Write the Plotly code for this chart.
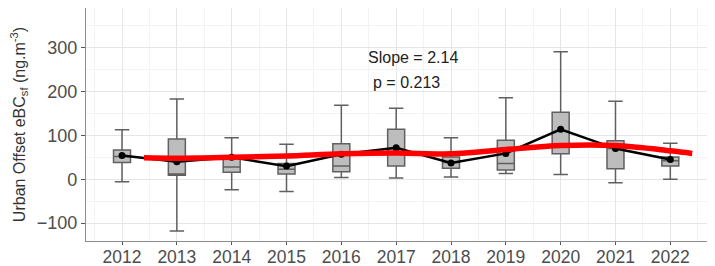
import plotly.graph_objects as go

years = [2012, 2013, 2014, 2015, 2016, 2017, 2018, 2019, 2020, 2021, 2022]
lower = [-6, -118, -24, -28, 4, 3, 5, 13, 11, -8, 0]
q1 = [38, 9, 16, 12, 17, 30, 25, 21, 58, 24, 30]
median = [52, 12, 28, 23, 30, 62, 38, 36, 80, 70, 42]
q3 = [67, 92, 48, 36, 81, 114, 51, 89, 153, 88, 51]
upper = [113, 183, 95, 80, 169, 162, 95, 186, 291, 178, 82]
means = [54, 40, 50, 30, 57, 72, 37, 59, 114, 70, 45]

trend_x = [2012.4, 2013, 2014, 2015, 2016, 2017, 2018, 2019, 2020, 2021, 2022, 2022.4]
trend_y = [49, 48, 50, 53, 58, 60, 58, 68, 77, 77, 65, 59]

tick_labels = [str(y) for y in years]
slope_text = "Slope = 2.14"
p_text = "p = 0.213"

fig = go.Figure()
fig.add_trace(go.Box(
    x=years, q1=q1, median=median, q3=q3,
    lowerfence=lower, upperfence=upper,
    width=0.31, whiskerwidth=0.85,
    fillcolor="#bdbdbd", line=dict(color="#606060", width=1.5),
    boxpoints=False, showlegend=False, hoverinfo="skip",
))
fig.add_trace(go.Scatter(
    x=years, y=means, mode="lines+markers",
    line=dict(color="black", width=2.5),
    marker=dict(color="black", size=7),
    showlegend=False,
))
fig.add_trace(go.Scatter(
    x=trend_x, y=trend_y, mode="lines",
    line=dict(color="#ff0000", width=5.5, shape="spline", smoothing=1.0),
    showlegend=False,
))

fig.add_annotation(x=2017.30, y=277, text=slope_text, showarrow=False,
                   font=dict(family="Liberation Sans", size=16, color="#222222"))
fig.add_annotation(x=2017.18, y=220, text=p_text, showarrow=False,
                   font=dict(family="Liberation Sans", size=16, color="#222222"))

# page body has an 8px default margin: figure is sized to fill the rest of the window
fig.update_layout(
    width=707, height=258,
    margin=dict(l=78, r=0, t=0, b=25, autoexpand=False),
    paper_bgcolor="white", plot_bgcolor="white",
    font=dict(family="Liberation Sans", color="#4d4d4d"),
)
fig.update_xaxes(
    automargin=False,
    range=[2011.343, 2022.815],
    tickvals=years, ticktext=tick_labels,
    tickfont=dict(size=17.5, color="#4d4d4d"),
    ticks="outside", ticklen=3, tickcolor="#555555",
    ticklabelstandoff=-3,
    showgrid=True, gridcolor="#e6e6e6", gridwidth=1,
    minor=dict(dtick=0.5, tick0=2011.5, showgrid=True, gridcolor="#f3f3f3", gridwidth=1),
    showline=True, linecolor="#8c8c8c", linewidth=1.2, mirror=True,
    zeroline=False,
)
fig.update_yaxes(
    automargin=False,
    range=[-141, 391],
    tickvals=[-100, 0, 100, 200, 300],
    tickfont=dict(size=18, color="#4d4d4d"),
    ticks="outside", ticklen=4, tickcolor="#555555",
    showgrid=True, gridcolor="#e6e6e6", gridwidth=1,
    minor=dict(tickvals=[-100 + 50 * i for i in range(-1, 10)], showgrid=True, gridcolor="#f3f3f3", gridwidth=1),
    showline=True, linecolor="#8c8c8c", linewidth=1.2,
    zeroline=False,
    title=dict(text="Urban Offset eBC<sub>sf</sub> (ng.m<sup>-3</sup>)",
               font=dict(size=16, color="#333333"), standoff=10),
)

fig.write_html("out.html")
